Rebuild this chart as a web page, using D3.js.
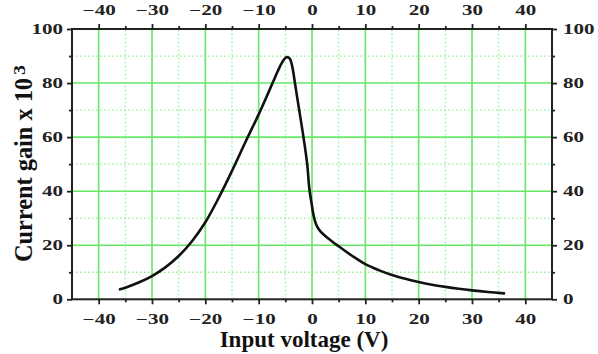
<!DOCTYPE html>
<html>
<head>
<meta charset="utf-8">
<script src="https://cdn.jsdelivr.net/npm/d3@7"></script>
<style>
  body { margin: 0; background: #fff; }
  svg { display: block; }
</style>
</head>
<body>
<div id="chart"></div>
<script>
// values
var voltage = [-36, -35, -32.5, -30, -27.5, -25, -22.5, -20, -17.5, -15, -12.5, -10, -8, -7, -6, -5.3, -4.7, -4.2, -3.8, -3.5, -3.2, -2.4, -1.6, -0.9, -0.5, 0, 0.3, 0.8, 1.5, 3, 5, 7.5, 10, 12.5, 15, 17.5, 20, 22.5, 25, 27.5, 30, 33, 36];
var gain = [3.7, 4.3, 6.2, 8.6, 11.8, 16, 21.5, 28.5, 37.5, 47.5, 58.1, 68.4, 77.3, 81.8, 86.2, 88.6, 89.6, 89.1, 87, 84, 80, 70, 60, 50, 41, 34.5, 31, 27.6, 25.3, 22.6, 19.6, 16.1, 13, 10.8, 9, 7.6, 6.4, 5.4, 4.6, 3.9, 3.3, 2.7, 2.2];

var xMajor = [-40, -30, -20, -10, 0, 10, 20, 30, 40];
var xMinor = [-35, -25, -15, -5, 5, 15, 25, 35];
var yMajor = [0, 20, 40, 60, 80, 100];
var yMinor = [10, 30, 50, 70, 90];

var width = 598, height = 354;
var margin = { top: 29, right: 46, bottom: 54.7, left: 72 };
var serif = "'Liberation Serif', 'Times New Roman', serif";

var svg = d3.select("#chart").append("svg")
  .attr("width", width)
  .attr("height", height);

var x = d3.scaleLinear().domain([-45, 45]).range([margin.left, width - margin.right]);
var y = d3.scaleLinear().domain([0, 100]).range([height - margin.bottom, margin.top]);

var gridMajor = "#66e866", gridMinor = "#8eee8e";

// grid lines
svg.append("g").selectAll("line")
  .data(xMajor).enter().append("line")
  .attr("x1", d => x(d)).attr("x2", d => x(d))
  .attr("y1", y(0)).attr("y2", y(100))
  .attr("stroke", gridMajor).attr("stroke-width", 1.6);

svg.append("g").selectAll("line")
  .data(yMajor.slice(1, -1)).enter().append("line")
  .attr("x1", x(-45)).attr("x2", x(45))
  .attr("y1", d => y(d)).attr("y2", d => y(d))
  .attr("stroke", gridMajor).attr("stroke-width", 1.6);

svg.append("g").selectAll("line")
  .data(xMinor).enter().append("line")
  .attr("x1", d => x(d)).attr("x2", d => x(d))
  .attr("y1", y(0)).attr("y2", y(100))
  .attr("stroke", gridMinor).attr("stroke-width", 1.3)
  .attr("stroke-dasharray", "1.5,2.5");

svg.append("g").selectAll("line")
  .data(yMinor).enter().append("line")
  .attr("x1", x(-45)).attr("x2", x(45))
  .attr("y1", d => y(d)).attr("y2", d => y(d))
  .attr("stroke", gridMinor).attr("stroke-width", 1.3)
  .attr("stroke-dasharray", "1.5,2.5");

// curve
var line = d3.line()
  .x((d, i) => x(voltage[i]))
  .y(d => y(d))
  .curve(d3.curveCatmullRom.alpha(0.5));

svg.append("path")
  .datum(gain)
  .attr("d", line)
  .attr("fill", "none")
  .attr("stroke", "#111")
  .attr("stroke-width", 2.6)
  .attr("stroke-linejoin", "round")
  .attr("stroke-linecap", "round");

// axes
function styleAxis(g) {
  g.attr("font-family", serif);
  g.select(".domain").remove();
  g.selectAll(".tick line").attr("stroke", "#222").attr("stroke-width", 1.8);
  g.selectAll(".tick text")
    .attr("fill", "#222")
    .style("font-family", serif)
    .style("font-weight", "bold")
    .style("font-size", "14px")
    .each(function () {
      var w = this.getComputedTextLength();
      d3.select(this).attr("textLength", w * 1.5).attr("lengthAdjust", "spacingAndGlyphs");
    });
}

var fmt = d3.format("d");

svg.append("g").attr("transform", "translate(0," + y(0) + ")")
  .call(d3.axisBottom(x).tickValues(xMajor).tickFormat(fmt).tickSize(5).tickPadding(10).tickSizeOuter(0))
  .call(styleAxis);
svg.append("g").attr("transform", "translate(0," + y(0) + ")")
  .call(d3.axisBottom(x).tickValues(xMinor).tickFormat("").tickSize(3).tickSizeOuter(0))
  .call(styleAxis);

svg.append("g").attr("transform", "translate(0," + y(100) + ")")
  .call(d3.axisTop(x).tickValues(xMajor).tickFormat(fmt).tickSize(5).tickPadding(9).tickSizeOuter(0))
  .call(styleAxis);
svg.append("g").attr("transform", "translate(0," + y(100) + ")")
  .call(d3.axisTop(x).tickValues(xMinor).tickFormat("").tickSize(3).tickSizeOuter(0))
  .call(styleAxis);

svg.append("g").attr("transform", "translate(" + x(-45) + ",0)")
  .call(d3.axisLeft(y).tickValues(yMajor).tickFormat(fmt).tickSize(5).tickPadding(4).tickSizeOuter(0))
  .call(styleAxis);
svg.append("g").attr("transform", "translate(" + x(-45) + ",0)")
  .call(d3.axisLeft(y).tickValues(yMinor).tickFormat("").tickSize(3).tickSizeOuter(0))
  .call(styleAxis);

svg.append("g").attr("transform", "translate(" + x(45) + ",0)")
  .call(d3.axisRight(y).tickValues(yMajor).tickFormat(fmt).tickSize(5).tickPadding(6).tickSizeOuter(0))
  .call(styleAxis);
svg.append("g").attr("transform", "translate(" + x(45) + ",0)")
  .call(d3.axisRight(y).tickValues(yMinor).tickFormat("").tickSize(3).tickSizeOuter(0))
  .call(styleAxis);

// frame
svg.append("rect")
  .attr("x", x(-45)).attr("y", y(100))
  .attr("width", x(45) - x(-45)).attr("height", y(0) - y(100))
  .attr("fill", "none")
  .attr("stroke", "#222")
  .attr("stroke-width", 2);

// axis titles
svg.append("text")
  .attr("x", 304).attr("y", 347)
  .attr("text-anchor", "middle")
  .style("font-family", serif)
  .style("font-weight", "bold")
  .style("font-size", "23px")
  .attr("fill", "#111")
  .text("Input voltage (V)");

var yt = svg.append("g").attr("transform", "translate(32,262) rotate(-90)");
yt.append("text")
  .attr("x", 0).attr("y", 0)
  .style("font-family", serif)
  .style("font-weight", "bold")
  .style("font-size", "26px")
  .attr("fill", "#111")
  .attr("textLength", 184)
  .attr("lengthAdjust", "spacingAndGlyphs")
  .text("Current gain x 10");
yt.append("text")
  .attr("x", 187).attr("y", -7)
  .style("font-family", serif)
  .style("font-weight", "bold")
  .style("font-size", "16px")
  .attr("fill", "#111")
  .attr("textLength", 10)
  .attr("lengthAdjust", "spacingAndGlyphs")
  .text("3");
</script>
</body>
</html>
